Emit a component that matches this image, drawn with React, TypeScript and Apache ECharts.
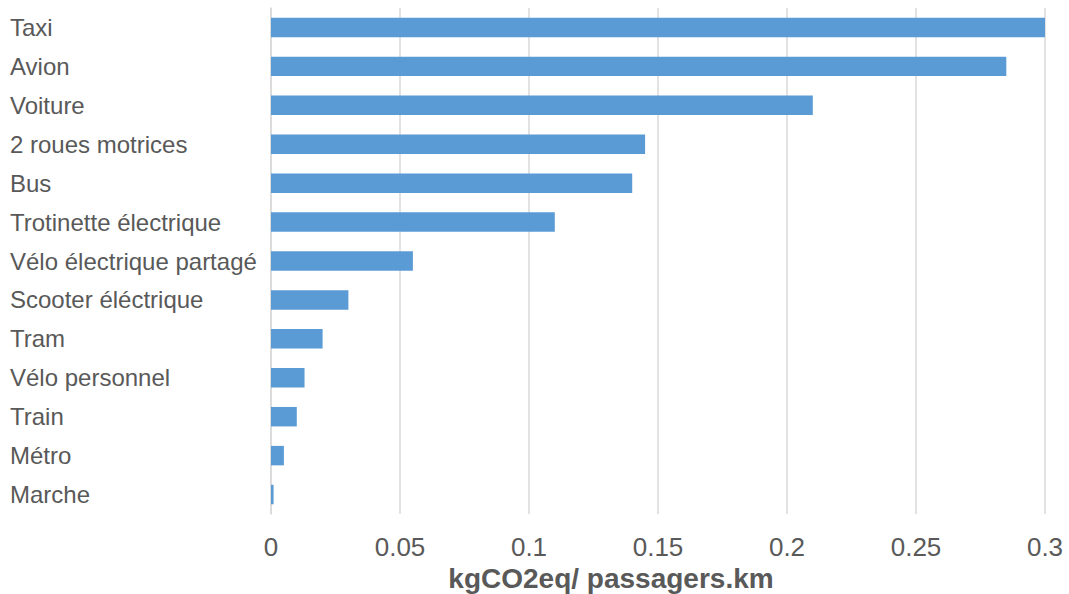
import React, { useEffect, useRef } from "react";
import * as echarts from "echarts";

const categories = [
  "Taxi",
  "Avion",
  "Voiture",
  "2 roues motrices",
  "Bus",
  "Trotinette électrique",
  "Vélo électrique partagé",
  "Scooter éléctrique",
  "Tram",
  "Vélo personnel",
  "Train",
  "Métro",
  "Marche",
];
const values = [0.3, 0.285, 0.21, 0.145, 0.14, 0.11, 0.055, 0.03, 0.02, 0.013, 0.01, 0.005, 0.001];
const axisTitle = "kgCO2eq/ passagers.km";

export default function App() {
  const ref = useRef<HTMLDivElement>(null);
  useEffect(() => {
    if (!ref.current) return;
    const chart = echarts.init(ref.current, undefined, { renderer: "svg" });
    const font = "'Liberation Sans', Arial, sans-serif";
    chart.setOption({
      animation: false,
      backgroundColor: "#ffffff",
      grid: { left: 271, right: 24, top: 8, bottom: 80, containLabel: false },
      xAxis: {
        type: "value",
        min: 0,
        max: 0.3,
        interval: 0.05,
        axisLine: { show: false },
        axisTick: { show: false },
        splitLine: { show: true, lineStyle: { color: "#d9d9d9", width: 1.5 } },
        axisLabel: {
          color: "#595959",
          fontFamily: font,
          fontSize: 26,
          margin: 20,
          formatter: (v: number) => String(parseFloat(v.toFixed(3))),
        },
      },
      yAxis: {
        type: "category",
        data: categories,
        inverse: true,
        axisLine: { show: true, lineStyle: { color: "#d9d9d9", width: 1.5 } },
        axisTick: { show: false },
        axisLabel: {
          align: "left",
          margin: 261,
          color: "#595959",
          fontFamily: font,
          fontSize: 24,
        },
      },
      series: [
        {
          type: "bar",
          data: values,
          barCategoryGap: "50%",
          itemStyle: { color: "#5b9bd5" },
        },
      ],
      graphic: [
        {
          type: "text",
          x: 611,
          y: 578,
          style: {
            text: axisTitle,
            fill: "#595959",
            font: `bold 28px ${font}`,
            textAlign: "center",
            textVerticalAlign: "middle",
          },
        },
      ],
    });
    return () => chart.dispose();
  }, []);
  return (
    <div
      ref={ref}
      style={{ position: "fixed", left: 0, top: 0, width: 1069, height: 594 }}
    />
  );
}
